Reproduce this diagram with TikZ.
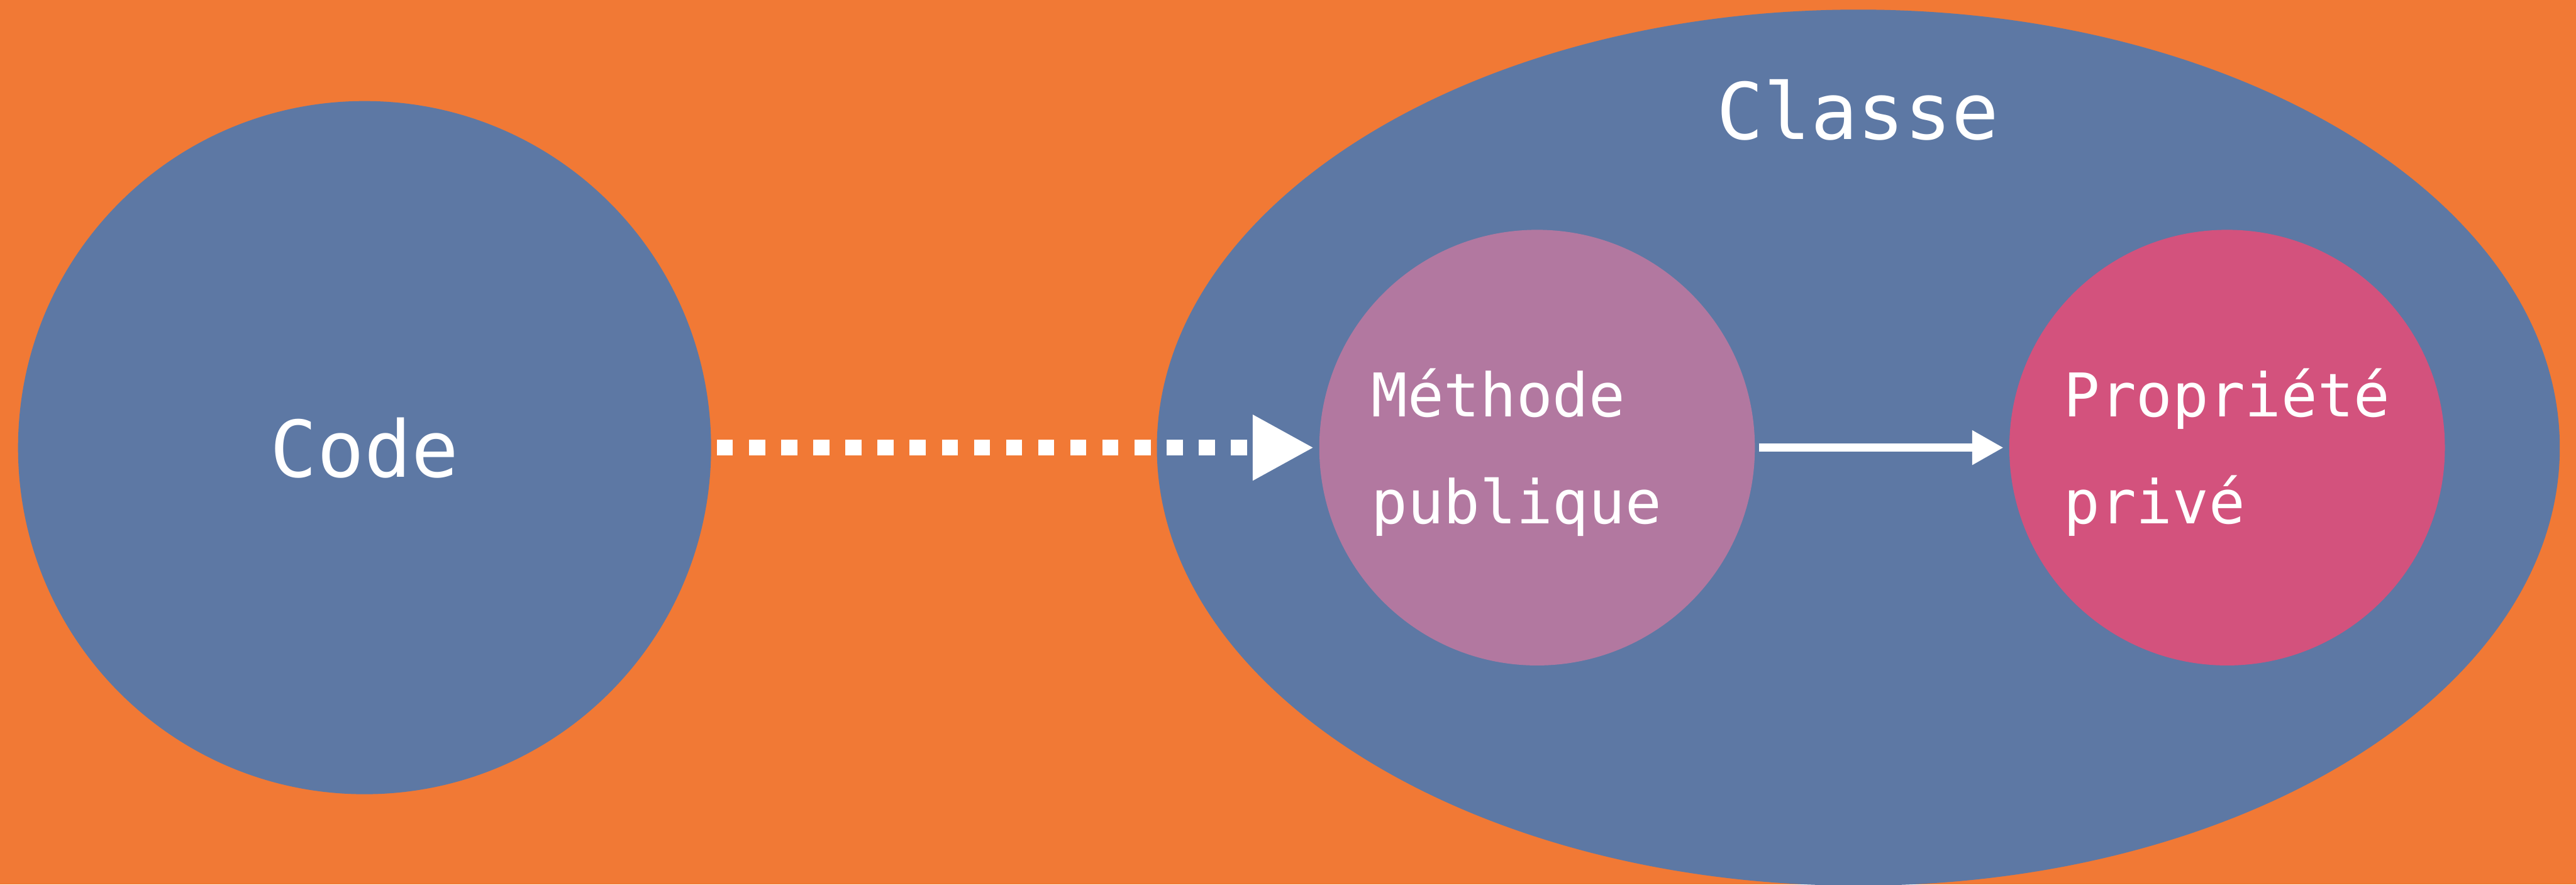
\documentclass[tikz,border=0pt]{standalone}
\usepackage{fontspec}
\setmonofont{DejaVu Sans Mono}
\definecolor{fond}{RGB}{241,121,53}
\definecolor{bleu}{RGB}{93,120,164}
\definecolor{mauve}{RGB}{178,120,160}
\definecolor{rose}{RGB}{211,82,125}
\usetikzlibrary{shapes.geometric,arrows.meta}

\begin{document}
\begin{tikzpicture}[
    every node/.style={text=white,font=\ttfamily},
    rond/.style={circle,inner sep=0pt,minimum size=#1},
    grand/.style={font=\ttfamily\fontsize{37}{44}\selectfont},
    petit/.style={font=\ttfamily\fontsize{28.5}{50.6}\selectfont,align=left,anchor=base west}]
        \useasboundingbox (0,0) rectangle (42.82,14.70);
        \clip (0,0) rectangle (42.82,14.70);
        \fill[fond] (0,0) rectangle (42.82,14.70);
        \node[rond=11.52cm,fill=bleu,grand] (code) at (6.06,7.26) {Code};
        \node[ellipse,inner sep=0pt,minimum width=23.32cm,minimum height=14.56cm,fill=bleu] (classe) at (30.89,7.26) {};
        \node[grand,anchor=base] (titre) at (30.88,12.38) {Classe};
        \node[rond=7.24cm,fill=mauve] (methode) at (25.55,7.26) {};
        \node[rond=7.24cm,fill=rose] (propriete) at (37.02,7.26) {};
        % base = ligne du bas
        \node[petit] (methodetxt) at (22.67,6.00) {Méthode\\publique};
        \node[petit] (proprietetxt) at (34.18,6.00) {Propriété\\privé};
        % appel vers la methode, puis acces a la propriete
        \draw[white,line width=0.267cm,dash pattern=on 0.267cm off 0.267cm,-{Triangle[length=1.02cm,width=1.02cm]},shorten <=0.09cm,shorten >=0.08cm] (code.east) -- (methode.west);
        \draw[white,line width=0.13cm,-{Triangle[length=0.52cm,width=0.54cm]},shorten <=0.06cm,shorten >=0.09cm] (methode.east) -- (propriete.west);
\end{tikzpicture}
\end{document}
